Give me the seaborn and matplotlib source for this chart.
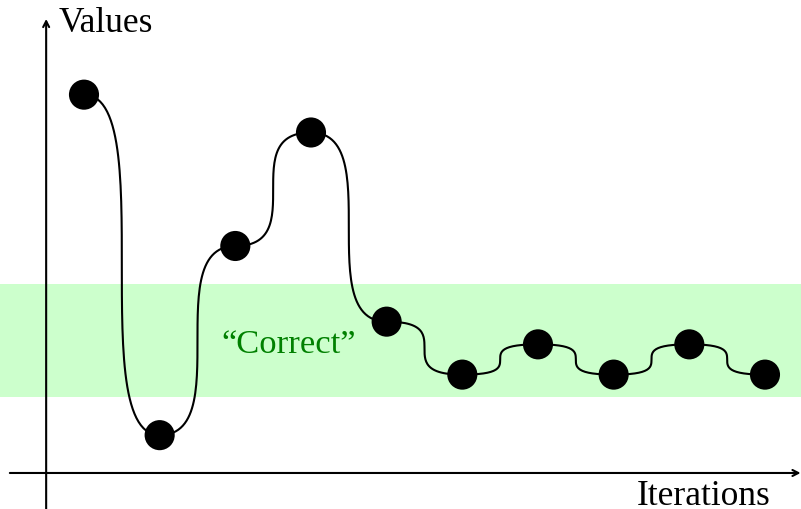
import numpy as np
import pandas as pd
import matplotlib
matplotlib.use("Agg")
import matplotlib.pyplot as plt
import seaborn as sns

# data
iterations = [1, 2, 3, 4, 5, 6, 7, 8, 9, 10]
values = [5.0, 0.5, 3.0, 4.5, 2.0, 1.3, 1.7, 1.3, 1.7, 1.3]
band_low, band_high = 1.0, 2.5
band_label = "\u201cCorrect\u201d"
x_label = "Iterations"
y_label = "Values"

sns.set_theme(style="white")
plt.rcParams["font.family"] = ["Liberation Serif", "DejaVu Serif"]

df = pd.DataFrame({"iteration": iterations, "value": values})

# smooth curve: cubic bezier between neighbours, horizontal tangents at the points
t = np.linspace(0, 1, 60)
cx, cy = [], []
for i in range(len(df) - 1):
    x0, y0 = df.iteration[i], df.value[i]
    x1, y1 = df.iteration[i + 1], df.value[i + 1]
    d = x1 - x0
    bx = (1 - t) ** 3 * x0 + 3 * t * (1 - t) ** 2 * (x0 + d) + 3 * t ** 2 * (1 - t) * (x1 - d) + t ** 3 * x1
    by = (1 - t) ** 3 * y0 + 3 * t * (1 - t) ** 2 * y0 + 3 * t ** 2 * (1 - t) * y1 + t ** 3 * y1
    cx.extend(bx)
    cy.extend(by)
curve = pd.DataFrame({"x": cx, "y": cy})

fig = plt.figure(figsize=(8.01, 5.09), dpi=100)
ax = fig.add_axes([0, 0, 1, 1])

ax.axhspan(band_low, band_high, xmin=0, xmax=1, color="#ccffcc", lw=0, zorder=0)
ax.text(3.70, 1.59, band_label, color="#008000",
        fontsize=24.8, ha="center", va="baseline", zorder=1)

# axes with arrows
arrow = dict(arrowstyle="->,head_length=0.35,head_width=0.18", lw=1.5, color="black",
             shrinkA=0, shrinkB=0)
ax.annotate("", xy=(10.47, 0), xytext=(0.02, 0), arrowprops=arrow, zorder=2)
ax.annotate("", xy=(0.5, 6.0), xytext=(0.5, -0.6), arrowprops=arrow, zorder=2)
ax.text(0.66, 5.83, y_label, fontsize=25.5, color="black", ha="left", va="baseline")
ax.text(10.07, -0.42, x_label, fontsize=25.5, color="black", ha="right", va="baseline")

sns.lineplot(data=curve, x="x", y="y", sort=False, estimator=None, color="black",
             lw=1.5, ax=ax, zorder=3)
sns.scatterplot(data=df, x="iteration", y="value", s=470, color="black",
                edgecolor="none", ax=ax, zorder=4)

ax.set_xlim(-0.11, 10.476)
ax.set_ylim(-0.476, 6.251)
ax.axis("off")

fig.savefig("out.png", dpi=100)
